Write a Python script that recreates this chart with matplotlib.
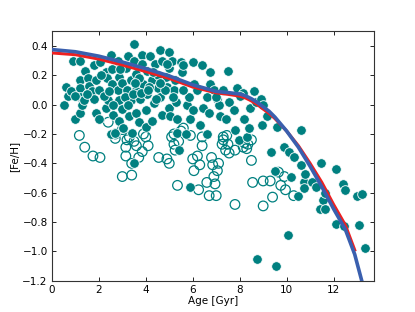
import numpy as np
import matplotlib
matplotlib.use('Agg')
import matplotlib.pyplot as plt

# etoiles avec [Fe/H] bien determine (points pleins)
age_pleins = [0.5, 0.6, 0.67, 0.9, 0.8, 1.0, 1.2, 1.2, 1.2, 1.2, 1.2, 1.3, 1.4, 1.35,
              1.55, 1.6, 1.7, 1.8, 1.8, 1.9, 1.9, 2.0, 2.0, 2.05, 2.5, 2.3, 2.35, 2.3,
              2.4, 2.5, 2.55, 2.55, 2.6, 2.7, 2.8, 2.8, 2.85, 2.85, 2.85, 3.0, 3.0,
              3.05, 3.15, 3.2, 3.25, 3.3, 3.35, 3.35, 3.4, 3.5, 3.5, 3.6, 3.6, 3.6,
              3.5, 3.7, 3.75, 3.85, 3.85, 3.9, 4.0, 4.0, 4.05, 4.05, 4.2, 4.25, 4.35,
              4.25, 4.4, 4.5, 4.6, 4.6, 4.7, 4.7, 4.85, 4.9, 5.0, 5.0, 5.0, 5.05, 5.1,
              5.2, 5.25, 5.35, 5.35, 5.4, 5.5, 5.55, 5.6, 5.7, 5.75, 5.85, 5.9, 5.9,
              6.0, 6.0, 6.05, 6.3, 6.4, 6.45, 6.6, 6.7, 6.75, 6.75, 6.6, 6.9, 7.05,
              7.1, 7.15, 7.3, 7.4, 7.5, 7.55, 7.75, 7.8, 7.9, 7.95, 8.15, 8.2, 8.3,
              8.4, 8.45, 8.6, 8.7, 8.75, 8.9, 8.95, 9.0, 9.15, 9.35, 9.5, 9.55, 9.6,
              9.9, 10.05, 10.1, 10.2, 10.3, 10.5, 10.6, 10.6, 10.75, 10.8, 10.75,
              11.1, 11.25, 11.4, 11.45, 11.55, 11.65, 11.65, 12.1, 12.1, 12.4, 12.5,
              12.45, 13.0, 13.2, 13.1, 13.35,
              2.2, 2.6, 3.1, 3.45, 3.8, 4.15, 4.5, 4.8, 2.1, 2.9, 3.7, 4.3, 1.5, 1.0,
              3.25, 4.6, 5.3, 2.45, 3.55, 4.1, 4.9, 5.6, 6.2, 7.0, 8.0, 4.45, 5.15]
feh_pleins = [0.0, 0.12, 0.06, 0.30, 0.09, -0.1, 0.30, 0.17, 0.11, 0.05, -0.06, 0.0,
              0.23, 0.03, 0.18, 0.13, 0.09, 0.04, 0.27, 0.17, -0.06, -0.1, 0.1, 0.29,
              0.34, 0.22, 0.18, -0.02, 0.03, -0.2, 0.14, 0.24, -0.07, -0.19, 0.1, 0.3,
              0.19, 0.03, -0.11, 0.15, -0.03, -0.16, 0.25, 0.1, 0.33, -0.08, 0.03,
              0.17, -0.19, 0.41, 0.3, 0.21, 0.1, -0.06, -0.4, -0.12, 0.04, 0.34, 0.28,
              0.14, -0.04, -0.15, 0.23, 0.07, 0.33, 0.17, 0.01, -0.11, 0.28, 0.11,
              0.37, 0.05, 0.3, -0.07, 0.19, 0.12, 0.36, 0.25, -0.02, -0.08, 0.3, 0.1,
              0.17, -0.1, -0.19, -0.31, 0.29, 0.22, 0.27, -0.2, 0.0, 0.05, -0.56,
              -0.1, 0.29, -0.04, 0.14, -0.14, 0.27, -0.02, 0.05, -0.06, 0.22, 0.14,
              -0.2, 0.1, 0.04, 0.0, -0.08, 0.1, -0.1, 0.23, 0.02, -0.04, -0.17, 0.11,
              -0.24, 0.08, -0.1, -0.22, -0.16, -0.02, 0.09, 0.02, -1.05, 0.04, -0.14,
              0.0, -0.08, -0.32, -0.45, -1.1, -0.15, -0.29, -0.89, -0.32, -0.49,
              -0.36, -0.62, -0.17, -0.41, -0.53, -0.47, -0.57, -0.53, -0.56, -0.71,
              -0.4, -0.65, -0.6, -0.71, -0.44, -0.81, -0.54, -0.58, -0.83, -0.62,
              -0.61, -0.82, -0.98,
              0.06, 0.0, 0.05, 0.07, 0.08, 0.12, 0.2, 0.1, 0.2, 0.24, 0.18, 0.22,
              0.07, 0.06, 0.0, 0.15, 0.02, 0.09, 0.15, 0.1, 0.28, 0.1, 0.1, 0.05, 0.06,
              0.04, 0.05]

# etoiles avec [Fe/H] incertain (cercles vides)
age_vides = [1.17, 1.4, 1.75, 2.05, 2.7, 3.0, 3.15, 3.15, 3.2, 3.4, 3.4, 3.6, 3.7,
             3.85, 4.0, 4.1, 4.55, 4.9, 5.0, 5.1, 5.2, 5.25, 5.35, 5.6, 5.9, 6.0,
             6.05, 6.2, 6.25, 6.3, 6.4, 6.4, 6.6, 6.7, 6.8, 6.85, 6.9, 6.95, 7.0,
             7.1, 7.05, 7.25, 7.3, 7.4, 7.45, 7.55, 7.8, 7.8, 8.15, 8.35, 8.5, 8.5,
             8.55, 9.0, 9.0, 9.3, 9.4, 9.65, 9.75, 9.9, 9.95, 10.3,
             2.7, 3.0, 3.3, 3.9, 5.2, 5.4, 7.3, 7.5, 2.4, 3.5, 5.5, 8.2, 8.3]
feh_vides = [-0.21, -0.29, -0.35, -0.36, -0.23, -0.49, -0.29, -0.35, -0.24, -0.48,
             -0.4, -0.28, -0.36, -0.32, -0.22, -0.28, -0.36, -0.37, -0.4, -0.22,
             -0.27, -0.31, -0.55, -0.16, -0.21, -0.37, -0.45, -0.35, -0.58, -0.41,
             -0.28, -0.22, -0.53, -0.62, -0.36, -0.41, -0.49, -0.54, -0.62, -0.4,
             -0.45, -0.27, -0.22, -0.31, -0.21, -0.33, -0.31, -0.68, -0.29, -0.27,
             -0.24, -0.38, -0.53, -0.52, -0.69, -0.52, -0.63, -0.46, -0.55, -0.49,
             -0.58, -0.62,
             -0.2, -0.17, -0.22, -0.2, -0.2, -0.25, -0.24, -0.27, -0.12, -0.25,
             -0.18, -0.26, -0.3]

# relations age-metallicite (modeles)
age_modele = [0.0, 1.0, 2.0, 3.0, 4.0, 5.0, 6.0, 7.0, 7.5, 8.0, 8.25, 8.5, 8.75,
              9.0, 9.25, 9.5, 10.0, 10.5, 11.0, 11.5, 12.0, 12.5, 12.9, 13.2]
feh_bleu = [0.375, 0.36, 0.33, 0.29, 0.245, 0.195, 0.135, 0.09, 0.082, 0.072, 0.06,
            0.04, 0.015, -0.015, -0.045, -0.085, -0.18, -0.29, -0.42, -0.56, -0.71,
            -0.85, -1.02, -1.2]
age_rouge = [0.0, 1.0, 2.0, 3.0, 4.0, 5.0, 6.0, 7.0, 7.5, 8.0, 8.25, 8.5, 8.75,
             9.0, 9.25, 9.5, 10.0, 10.5, 11.0, 11.5, 12.0, 12.5, 12.9]
feh_rouge = [0.352, 0.34, 0.31, 0.27, 0.225, 0.178, 0.12, 0.08, 0.07, 0.058, 0.045,
             0.025, 0.0, -0.03, -0.06, -0.095, -0.18, -0.28, -0.40, -0.53, -0.68,
             -0.82, -0.99]

teal = '#008080'

plt.rcParams['font.family'] = 'DejaVu Sans'
fig = plt.figure(figsize=(4.15, 3.12), dpi=100, facecolor='white')
ax = fig.add_axes([0.125, 0.1, 0.775, 0.8])

ax.scatter(age_vides, feh_vides, s=48, facecolors='none', edgecolors=teal,
           linewidths=0.9, zorder=2)
ax.scatter(age_pleins, feh_pleins, s=48, c=teal, edgecolors='white',
           linewidths=0.6, zorder=3)
ax.plot(age_rouge, feh_rouge, color='#ee2020', lw=2.2, zorder=4)
ax.plot(age_modele, feh_bleu, color='#3a5fae', lw=2.6, zorder=5)

ax.set_xlim(0, 13.7)
ax.set_ylim(-1.2, 0.5)
ax.set_xticks(np.arange(0, 13, 2))
ax.set_yticks(np.arange(-1.2, 0.41, 0.2))
ax.set_xticklabels([str(int(t)) for t in np.arange(0, 13, 2)])
ax.set_yticklabels(['\u22121.2', '\u22121.0', '\u22120.8', '\u22120.6', '\u22120.4',
                    '\u22120.2', '0.0', '0.2', '0.4'])
ax.tick_params(direction='in', top=True, right=True, length=3, width=0.6,
               labelsize=7.5, pad=3)
for sp in ax.spines.values():
    sp.set_linewidth(0.8)
    sp.set_color('#333333')
ax.set_xlabel('Age [Gyr]', fontsize=7.5, labelpad=1)
ax.set_ylabel('[Fe/H]', fontsize=7.5, labelpad=2)

fig.savefig('out.png', dpi=100, facecolor='white')
